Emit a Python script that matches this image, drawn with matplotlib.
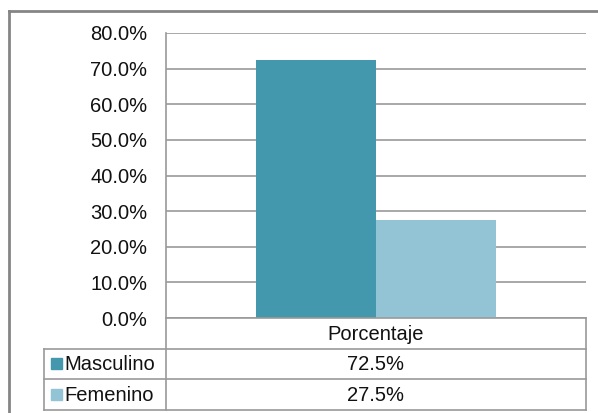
import matplotlib.pyplot as plt
from matplotlib.ticker import FuncFormatter
from matplotlib.patches import Rectangle

plt.rcParams['font.family'] = ['Liberation Sans', 'DejaVu Sans']

category = "Porcentaje"
series_names = ["Masculino", "Femenino"]
series_values = [72.5, 27.5]
series_colors = ["#4398ae", "#93c4d6"]
y_ticks = [0, 10, 20, 30, 40, 50, 60, 70, 80]

W, H = 598, 413
fig = plt.figure(figsize=(W / 100, H / 100), dpi=100)

# plot area in pixel units, converted to figure fractions
px_left, px_right, px_top, px_bottom = 166, 586, 33, 318
ax = fig.add_axes([px_left / W, 1 - px_bottom / H,
                   (px_right - px_left) / W, (px_bottom - px_top) / H])

bar_w = 0.286
offsets = [-bar_w / 2, bar_w / 2]
for name, val, col, off in zip(series_names, series_values, series_colors, offsets):
    ax.bar(off, val, width=bar_w, color=col, zorder=3, label=name)

ax.set_xlim(-0.5, 0.5)
ax.set_ylim(0, 80)
ax.set_yticks(y_ticks)
ax.yaxis.set_major_formatter(FuncFormatter(lambda v, _: f"{v:.1f}%"))
ax.tick_params(axis='y', length=0, pad=13.5, labelsize=14.5, labelcolor='#111111')
ax.set_xticks([])
ax.grid(axis='y', color='#9a9a9a', linewidth=1.2, zorder=0)
for s in ['top', 'right', 'bottom']:
    ax.spines[s].set_visible(False)
ax.spines['left'].set_color('#9a9a9a')
ax.spines['left'].set_linewidth(1.2)

# data table beneath the plot, drawn on a pixel-space overlay
ov = fig.add_axes([0, 0, 1, 1], facecolor='none')
ov.set_xlim(0, W)
ov.set_ylim(H, 0)
ov.axis('off')

line_kw = dict(color='#9a9a9a', linewidth=1.2)
row_h = 30.5
label_left = 44
table_fs = 14.5
# header row
ov.plot([px_left, px_right], [px_bottom, px_bottom], **line_kw)
ov.plot([px_right, px_right], [px_bottom, px_bottom + 3 * row_h], **line_kw)
ov.plot([px_left, px_left], [px_bottom, px_bottom + 3 * row_h], **line_kw)
ov.text((px_left + px_right) / 2, px_bottom + row_h / 2 + 1, category,
        ha='center', va='center', fontsize=table_fs, color='#111111')
for i, (name, val, col) in enumerate(zip(series_names, series_values, series_colors)):
    top = px_bottom + (i + 1) * row_h
    ov.plot([label_left, px_right], [top, top], **line_kw)
    ov.add_patch(Rectangle((51, top + row_h / 2 - 5.5), 11, 11, color=col))
    ov.text(64, top + row_h / 2 + 1, name, ha='left', va='center',
            fontsize=table_fs, color='#111111')
    ov.text((px_left + px_right) / 2, top + row_h / 2 + 1, f"{val:.1f}%",
            ha='center', va='center', fontsize=table_fs, color='#111111')
bottom = px_bottom + 3 * row_h
ov.plot([label_left, px_right], [bottom, bottom], **line_kw)
ov.plot([label_left, label_left], [px_bottom + row_h, bottom], **line_kw)

# chart frame
ov.plot([9, W], [11, 11], color='#858585', linewidth=2)
ov.plot([9, 9], [11, H], color='#858585', linewidth=2)

fig.savefig('out.png', dpi=100)
